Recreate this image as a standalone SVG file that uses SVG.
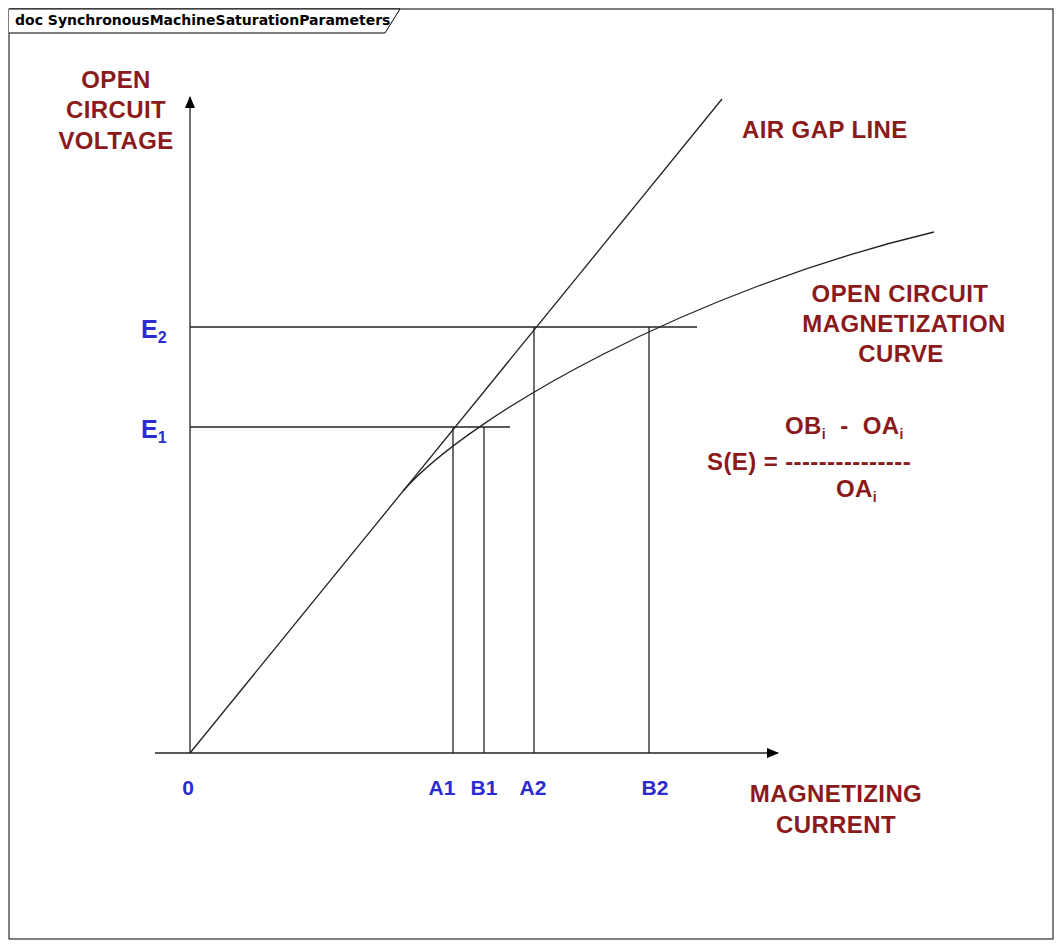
<svg xmlns="http://www.w3.org/2000/svg" width="1062" height="946" viewBox="0 0 1062 946">
<style>
.ln{stroke:#222;stroke-width:1.3;fill:none}
.r{font-family:"Liberation Sans",Arial,sans-serif;font-weight:bold;font-size:24px;fill:#8b1a1a;letter-spacing:0.4px}
.b{font-family:"Liberation Sans",Arial,sans-serif;font-weight:bold;font-size:21px;fill:#2b2bd0}
.h{font-family:"DejaVu Sans",sans-serif;font-weight:bold;font-size:14px;fill:#000}
</style>
<defs><marker id="ar" markerWidth="12" markerHeight="10" refX="11" refY="5" orient="auto" markerUnits="userSpaceOnUse"><path d="M0,0 L12,5 L0,10 Z" fill="#000"/></marker></defs>
<rect x="9" y="9" width="1044" height="930" fill="#fff" stroke="#000"/>
<g id="header"><path d="M9,9 H400 L385,33 H9" fill="#fff" stroke="#000"/><text class="h" x="15" y="25">doc SynchronousMachineSaturationParameters</text></g>
<g id="connectors">
<line class="ln" x1="190" y1="753" x2="190" y2="97" marker-end="url(#ar)"/>
<line class="ln" x1="155" y1="753" x2="778" y2="753" marker-end="url(#ar)"/>
<line class="ln" x1="190" y1="753" x2="722" y2="99"/>
<path class="ln" d="M403,491 C470,415 690,290 934,232"/>
<line class="ln" x1="190" y1="327" x2="697" y2="327"/>
<line class="ln" x1="190" y1="427" x2="510" y2="427"/>
<line class="ln" x1="453" y1="427" x2="453" y2="753"/>
<line class="ln" x1="484" y1="427" x2="484" y2="753"/>
<line class="ln" x1="534" y1="327" x2="534" y2="753"/>
<line class="ln" x1="649" y1="327" x2="649" y2="753"/>
</g>
<g id="yaxis-label" class="r" text-anchor="middle"><text x="116" y="88">OPEN</text><text x="116" y="118">CIRCUIT</text><text x="116" y="149">VOLTAGE</text></g>
<g id="airgap-label"><text class="r" x="742" y="138">AIR GAP LINE</text></g>
<g id="curve-label" class="r" text-anchor="middle"><text x="900" y="302">OPEN CIRCUIT</text><text x="904" y="332">MAGNETIZATION</text><text x="901" y="362">CURVE</text></g>
<g id="xaxis-label" class="r" text-anchor="middle"><text x="836" y="802">MAGNETIZING</text><text x="836" y="833">CURRENT</text></g>
<g id="formula" class="r">
<text x="785" y="434">OB<tspan font-size="14" dy="5">i</tspan><tspan dy="-5" xml:space="preserve">  -  OA</tspan><tspan font-size="14" dy="5">i</tspan></text>
<text x="707" y="470">S(E) = ---------------</text>
<text x="836" y="497">OA<tspan font-size="14" dy="5">i</tspan></text>
</g>
<g id="ticks" class="b" text-anchor="middle">
<text x="188" y="795">0</text><text x="442" y="795">A1</text><text x="484" y="795">B1</text><text x="533" y="795">A2</text><text x="655" y="795">B2</text>
</g>
<g id="elabels" class="b" style="font-size:25px">
<text x="141" y="338">E<tspan style="font-size:16px" dy="5">2</tspan></text>
<text x="141" y="438">E<tspan style="font-size:16px" dy="5">1</tspan></text>
</g>
</svg>
